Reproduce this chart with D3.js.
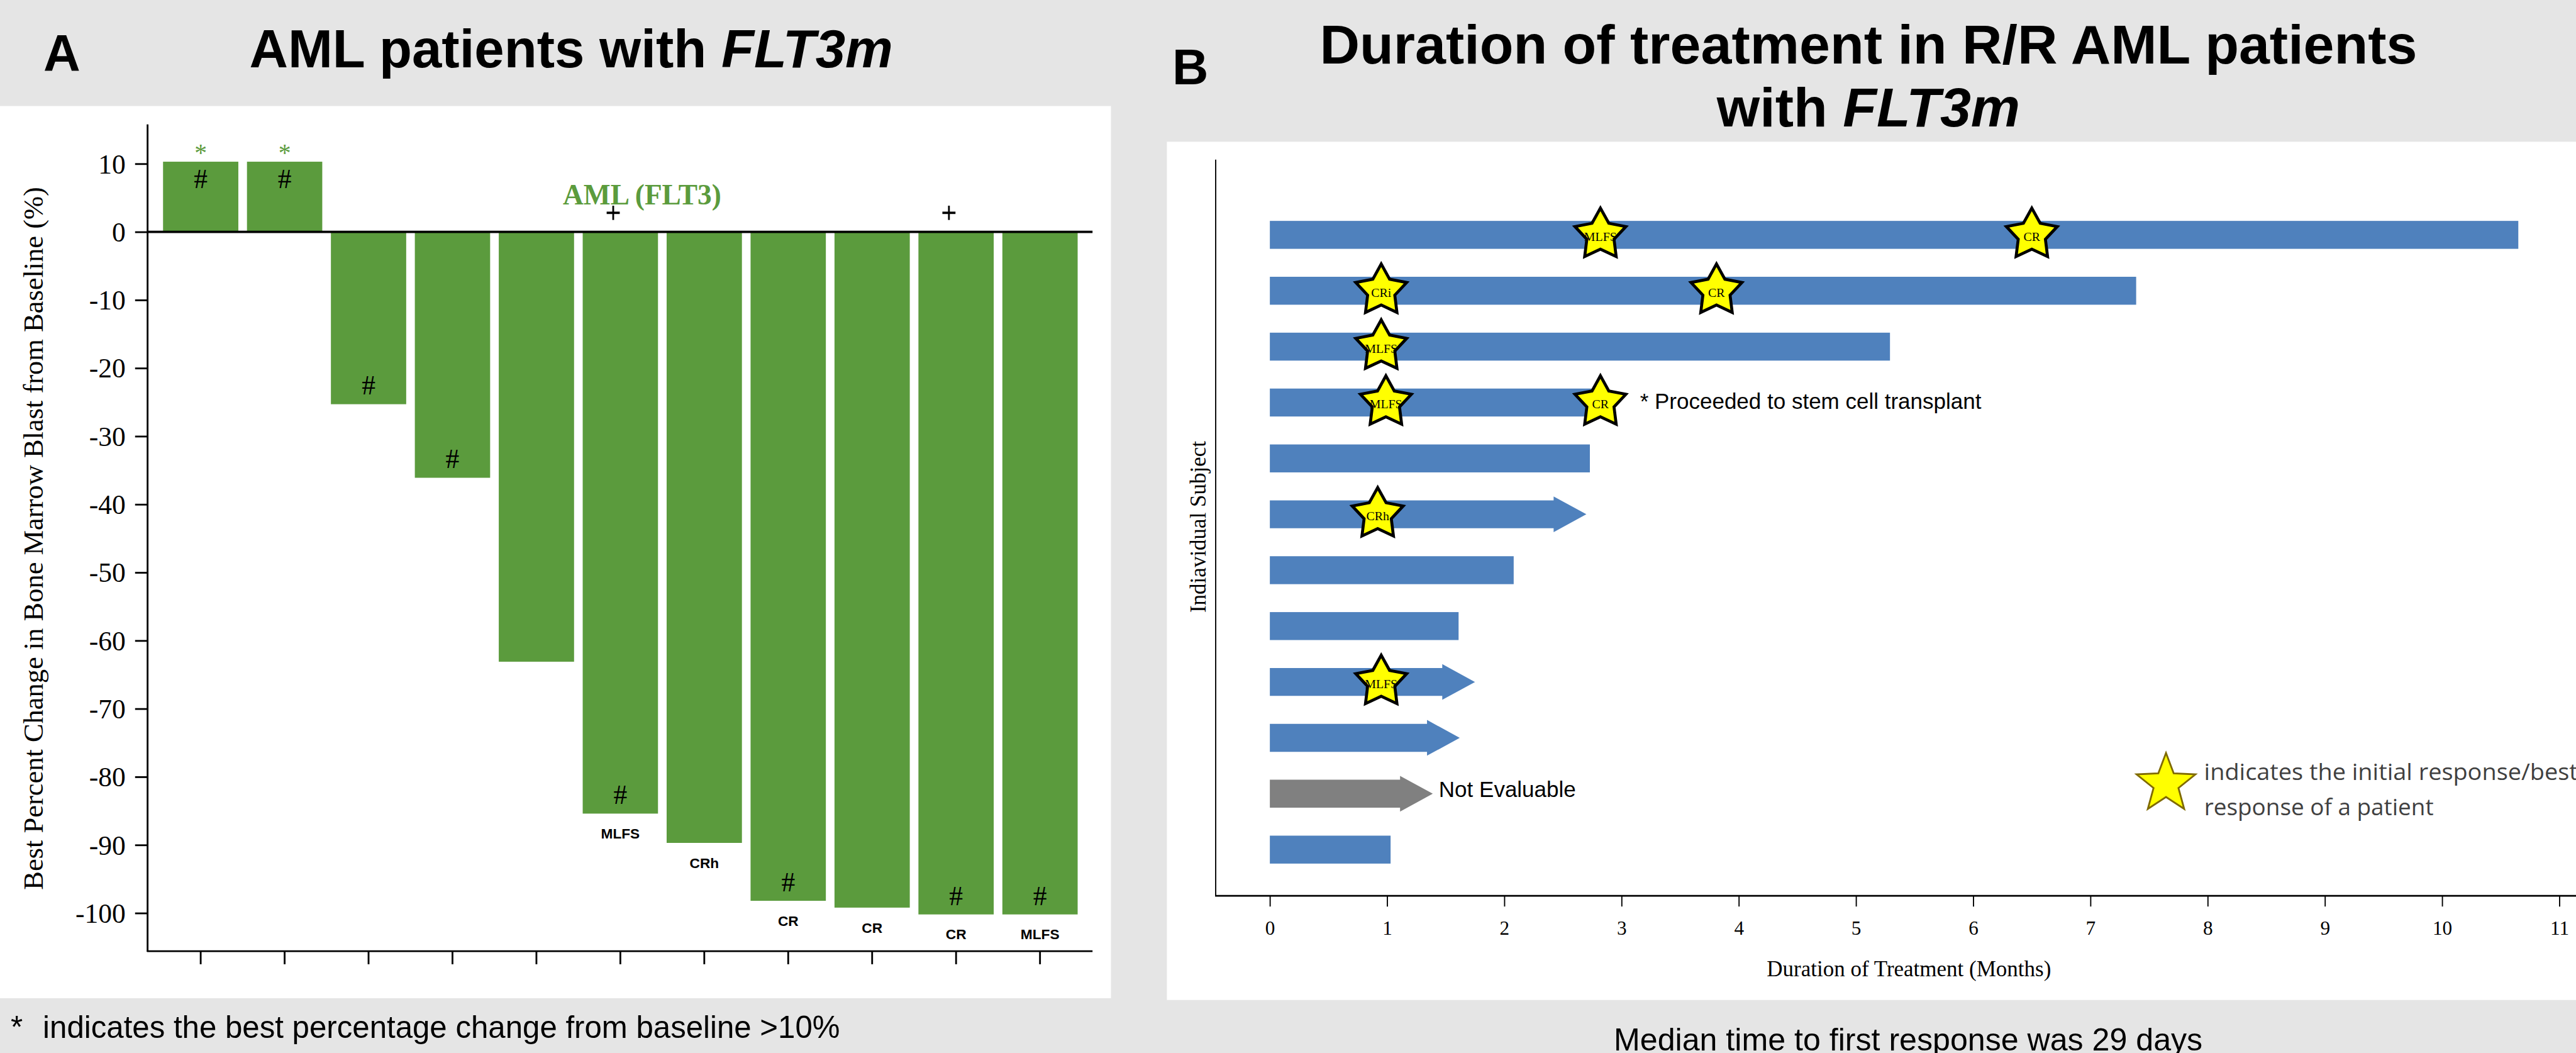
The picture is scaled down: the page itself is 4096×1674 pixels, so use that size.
<!DOCTYPE html>
<html>
<head>
<meta charset="utf-8">
<script src="https://cdn.jsdelivr.net/npm/d3@7/dist/d3.min.js"></script>
<style>
  html, body { margin: 0; padding: 0; background: #e5e5e5; overflow: hidden; }
  svg { display: block; }
</style>
</head>
<body>
<script>
// ---------------- Panel A data ----------------
const aCategories = d3.range(1, 12);                 // 11 patients
const aValues = [10.3, 10.3, -25.3, -36.1, -63.1, -85.4, -89.7, -98.2, -99.2, -100.2, -100.2];
const aHash = [1, 1, 1, 1, 0, 1, 0, 1, 0, 1, 1];
const aStarAbove = [1, 1, 0, 0, 0, 0, 0, 0, 0, 0, 0];
const aPlus = [0, 0, 0, 0, 0, 1, 0, 0, 0, 1, 0];
const aResponse = ["", "", "", "", "", "MLFS", "CRh", "CR", "CR", "CR", "MLFS"];
const aYTicks = [10, 0, -10, -20, -30, -40, -50, -60, -70, -80, -90, -100];

// ---------------- Panel B data ----------------
const bSubjects = d3.range(1, 13);                   // 12 subjects, top to bottom
const bDurations = [10.65, 7.39, 5.29, 2.85, 2.73, 2.70, 2.08, 1.61, 1.75, 1.62, 1.39, 1.03];
const bOngoing = [0, 0, 0, 0, 0, 1, 0, 0, 1, 1, 1, 0];
const bEvaluable = [1, 1, 1, 1, 1, 1, 1, 1, 1, 1, 0, 1];
const bStarRows = [1, 1, 2, 2, 3, 4, 4, 6, 9];
const bStarMonths = [2.82, 6.50, 0.95, 3.81, 0.95, 0.99, 2.82, 0.92, 0.95];
const bStarLabels = ["MLFS", "CR", "CRi", "CR", "MLFS", "MLFS", "CR", "CRh", "MLFS"];
const bXTicks = [0, 1, 2, 3, 4, 5, 6, 7, 8, 9, 10, 11];

const SERIF = "'Liberation Serif','Times New Roman',serif";
const SANS = "'Liberation Sans',Arial,sans-serif";
const GREEN = "#5b9b3d";
const BLUE = "#4f81bd";

const svg = d3.select("body").append("svg")
  .attr("width", 4096).attr("height", 1674)
  .attr("viewBox", "0 0 4329 1769");

svg.append("rect").attr("x", 0).attr("y", 0).attr("width", 4329).attr("height", 1769).attr("fill", "#e5e5e5");
svg.append("rect").attr("x", 0).attr("y", 178).attr("width", 1867).attr("height", 1499).attr("fill", "#ffffff");
svg.append("rect").attr("x", 1961).attr("y", 238).attr("width", 2368).attr("height", 1442).attr("fill", "#ffffff");

// ---------------- Titles ----------------
svg.append("text").attr("x", 73).attr("y", 118).attr("font-family", SANS).attr("font-weight", "bold")
  .attr("font-size", 86).text("A");
const tA = svg.append("text").attr("x", 419).attr("y", 113).attr("font-family", SANS).attr("font-weight", "bold")
  .attr("font-size", 90);
tA.append("tspan").text("AML patients with ");
tA.append("tspan").attr("font-style", "italic").text("FLT3m");

svg.append("text").attr("x", 1970).attr("y", 142).attr("font-family", SANS).attr("font-weight", "bold")
  .attr("font-size", 84).text("B");
svg.append("text").attr("x", 3140).attr("y", 107).attr("text-anchor", "middle").attr("font-family", SANS)
  .attr("font-weight", "bold").attr("font-size", 93).text("Duration of treatment in R/R AML patients");
const tB2 = svg.append("text").attr("x", 3140).attr("y", 212).attr("text-anchor", "middle").attr("font-family", SANS)
  .attr("font-weight", "bold").attr("font-size", 93);
tB2.append("tspan").text("with ");
tB2.append("tspan").attr("font-style", "italic").text("FLT3m");

// ---------------- Panel A chart ----------------
const ax = d3.scaleBand().domain(aCategories).range([274, 1811]).paddingInner(0.103).paddingOuter(0);
const ay = d3.scaleLinear().domain([-100, 10]).range([1534, 275]);
const gA = svg.append("g");

gA.selectAll("rect.bar").data(aValues).join("rect").attr("class", "bar")
  .attr("x", (d, i) => ax(aCategories[i]))
  .attr("width", ax.bandwidth())
  .attr("y", d => Math.min(ay(d), ay(0)))
  .attr("height", d => Math.abs(ay(d) - ay(0)))
  .attr("fill", GREEN);

// y axis
const yAxisA = d3.axisLeft(ay).tickValues(aYTicks).tickSize(21).tickPadding(16).tickFormat(d => String(d));
const gYA = gA.append("g").attr("transform", "translate(248,0)").call(yAxisA);
gYA.select(".domain").remove();
gYA.selectAll(".tick line").attr("stroke", "#000").attr("stroke-width", 3);
gYA.selectAll(".tick text").attr("font-family", SERIF).attr("font-size", 46).attr("fill", "#000")
  .attr("dy", "0.34em");
gA.append("line").attr("x1", 248).attr("x2", 248).attr("y1", 209).attr("y2", 1599)
  .attr("stroke", "#000").attr("stroke-width", 3);

// bottom axis
const xAxisA = d3.axisBottom(ax).tickSize(22).tickFormat("");
const gXA = gA.append("g").attr("transform", "translate(0,1598)").call(xAxisA);
gXA.select(".domain").remove();
gXA.selectAll(".tick line").attr("stroke", "#000").attr("stroke-width", 3);
gA.append("line").attr("x1", 247).attr("x2", 1836).attr("y1", 1598).attr("y2", 1598)
  .attr("stroke", "#000").attr("stroke-width", 3);

// zero line
gA.append("line").attr("x1", 248).attr("x2", 1836).attr("y1", ay(0)).attr("y2", ay(0))
  .attr("stroke", "#000").attr("stroke-width", 4);

// y title
gA.append("text").attr("transform", "translate(72," + ((ay(10) + 1534) / 2) + ") rotate(-90)")
  .attr("text-anchor", "middle").attr("font-family", SERIF).attr("font-size", 47)
  .text("Best Percent Change in Bone Marrow Blast from Baseline (%)");

// '#' markers
const cx = i => ax(aCategories[i]) + ax.bandwidth() / 2;
gA.selectAll("text.hash").data(aValues.map((v, i) => ({ v, i })).filter(d => aHash[d.i]))
  .join("text").attr("class", "hash")
  .attr("x", d => cx(d.i)).attr("y", d => d.v > 0 ? ay(d.v) + 44 : ay(d.v) - 16)
  .attr("text-anchor", "middle").attr("font-family", SERIF).attr("font-size", 46).text("#");

// green asterisks
gA.selectAll("text.ast").data(aValues.map((v, i) => ({ v, i })).filter(d => aStarAbove[d.i]))
  .join("text").attr("class", "ast")
  .attr("x", d => cx(d.i)).attr("y", d => ay(d.v) - 1)
  .attr("text-anchor", "middle").attr("font-family", SERIF).attr("font-size", 42).attr("fill", GREEN).text("*");

// plus markers (drawn as cross marks)
const plusData = aValues.map((v, i) => ({ v, i })).filter(d => aPlus[d.i]);
plusData.forEach(d => {
  const px = cx(d.i) - 12, py = ay(0) - 32;
  gA.append("line").attr("x1", px - 11).attr("x2", px + 11).attr("y1", py).attr("y2", py)
    .attr("stroke", "#000").attr("stroke-width", 4);
  gA.append("line").attr("x1", px).attr("x2", px).attr("y1", py - 12).attr("y2", py + 12)
    .attr("stroke", "#000").attr("stroke-width", 3);
});

// response labels below bars
gA.selectAll("text.resp").data(aValues.map((v, i) => ({ v, i })).filter(d => aResponse[d.i]))
  .join("text").attr("class", "resp")
  .attr("x", d => cx(d.i)).attr("y", d => ay(d.v) + 42)
  .attr("text-anchor", "middle").attr("font-family", SANS).attr("font-weight", "bold").attr("font-size", 24)
  .text(d => aResponse[d.i]);

// AML (FLT3) label
gA.append("text").attr("x", 1079).attr("y", 343).attr("text-anchor", "middle")
  .attr("font-family", SERIF).attr("font-weight", "bold").attr("font-size", 48).attr("fill", GREEN)
  .text("AML (FLT3)");

// footnote
svg.append("text").attr("x", 18).attr("y", 1744).attr("font-family", SANS).attr("font-size", 52).text("*");
svg.append("text").attr("x", 72).attr("y", 1744).attr("font-family", SANS).attr("font-size", 52)
  .text("indicates the best percentage change from baseline >10%");

// ---------------- Panel B chart ----------------
const bx = d3.scaleLinear().domain([0, 11]).range([2134, 4301]);
const by = d3.scaleBand().domain(bSubjects).range([347.55, 1474.35]).paddingInner(0.5).paddingOuter(0.25);
const gB = svg.append("g");
const HEAD = 55, HALF = 30;

bDurations.forEach((dur, i) => {
  const top = by(bSubjects[i]);
  const h = by.bandwidth();
  const mid = top + h / 2;
  const x0 = bx(0), x1 = bx(dur);
  const fill = bEvaluable[i] ? BLUE : "#808080";
  if (bOngoing[i]) {
    const p = d3.path();
    p.moveTo(x0, top);
    p.lineTo(x1 - HEAD, top);
    p.lineTo(x1 - HEAD, mid - HALF);
    p.lineTo(x1, mid);
    p.lineTo(x1 - HEAD, mid + HALF);
    p.lineTo(x1 - HEAD, top + h);
    p.lineTo(x0, top + h);
    p.closePath();
    gB.append("path").attr("d", p.toString()).attr("fill", fill);
  } else {
    gB.append("rect").attr("x", x0).attr("y", top).attr("width", x1 - x0).attr("height", h).attr("fill", fill);
  }
});

// axes
const xAxisB = d3.axisBottom(bx).tickValues(bXTicks).tickSize(18).tickPadding(24).tickFormat(d3.format("d"));
const gXB = gB.append("g").attr("transform", "translate(0,1505)").call(xAxisB);
gXB.select(".domain").remove();
gXB.selectAll(".tick line").attr("stroke", "#000").attr("stroke-width", 2);
gXB.selectAll(".tick text").attr("font-family", SERIF).attr("font-size", 33).attr("fill", "#000");
gB.append("line").attr("x1", 2042).attr("x2", 4329).attr("y1", 1505).attr("y2", 1505)
  .attr("stroke", "#000").attr("stroke-width", 3);
gB.append("line").attr("x1", 2043).attr("x2", 2043).attr("y1", 268).attr("y2", 1505)
  .attr("stroke", "#000").attr("stroke-width", 2);

gB.append("text").attr("x", 3208).attr("y", 1640).attr("text-anchor", "middle")
  .attr("font-family", SERIF).attr("font-size", 37).text("Duration of Treatment (Months)");
gB.append("text").attr("transform", "translate(2026,885) rotate(-90)").attr("text-anchor", "middle")
  .attr("font-family", SERIF).attr("font-size", 37).text("Indiavidual Subject");

// stars
function starPath(R, r) {
  const pts = [];
  for (let k = 0; k < 10; k++) {
    const a = k * Math.PI / 5;
    const rad = k % 2 === 0 ? R : r;
    pts.push([rad * Math.sin(a), -rad * Math.cos(a)]);
  }
  return "M" + pts.map(p => p[0].toFixed(2) + "," + p[1].toFixed(2)).join("L") + "Z";
}
const starD = starPath(45, 24);
bStarRows.forEach((row, k) => {
  const cxs = bx(bStarMonths[k]);
  const cys = by(row) + by.bandwidth() / 2;
  const g = gB.append("g").attr("transform", "translate(" + cxs + "," + cys + ")");
  g.append("path").attr("d", starD).attr("fill", "#ffff00").attr("stroke", "#000")
    .attr("stroke-width", 5).attr("stroke-linejoin", "miter").attr("stroke-miterlimit", 10);
  g.append("text").attr("x", 0).attr("y", 10).attr("text-anchor", "middle")
    .attr("font-family", SERIF).attr("font-size", 21).text(bStarLabels[k]);
});

// annotations
gB.append("text").attr("x", 2756).attr("y", by(4) + by.bandwidth() / 2 + 11)
  .attr("font-family", SANS).attr("font-size", 37).text("* Proceeded to stem cell transplant");
gB.append("text").attr("x", 2418).attr("y", by(11) + by.bandwidth() / 2 + 5)
  .attr("font-family", SANS).attr("font-size", 37).text("Not Evaluable");

// legend
const lg = gB.append("g").attr("transform", "translate(3640,1317)");
lg.append("path").attr("d", starPath(52, 22)).attr("fill", "#ffff00").attr("stroke", "#7f6a00").attr("stroke-width", 3);
gB.append("text").attr("x", 3704).attr("y", 1310).attr("font-family", "'Open Sans',sans-serif")
  .attr("font-size", 39).attr("fill", "#404040")
  .attr("textLength", 628).attr("lengthAdjust", "spacingAndGlyphs")
  .text("indicates the initial response/best");
gB.append("text").attr("x", 3704).attr("y", 1370).attr("font-family", "'Open Sans',sans-serif")
  .attr("font-size", 39).attr("fill", "#404040").text("response of a patient");

// caption B
svg.append("text").attr("x", 2712).attr("y", 1765).attr("font-family", SANS).attr("font-size", 53)
  .text("Median time to first response was 29 days");
</script>
</body>
</html>
